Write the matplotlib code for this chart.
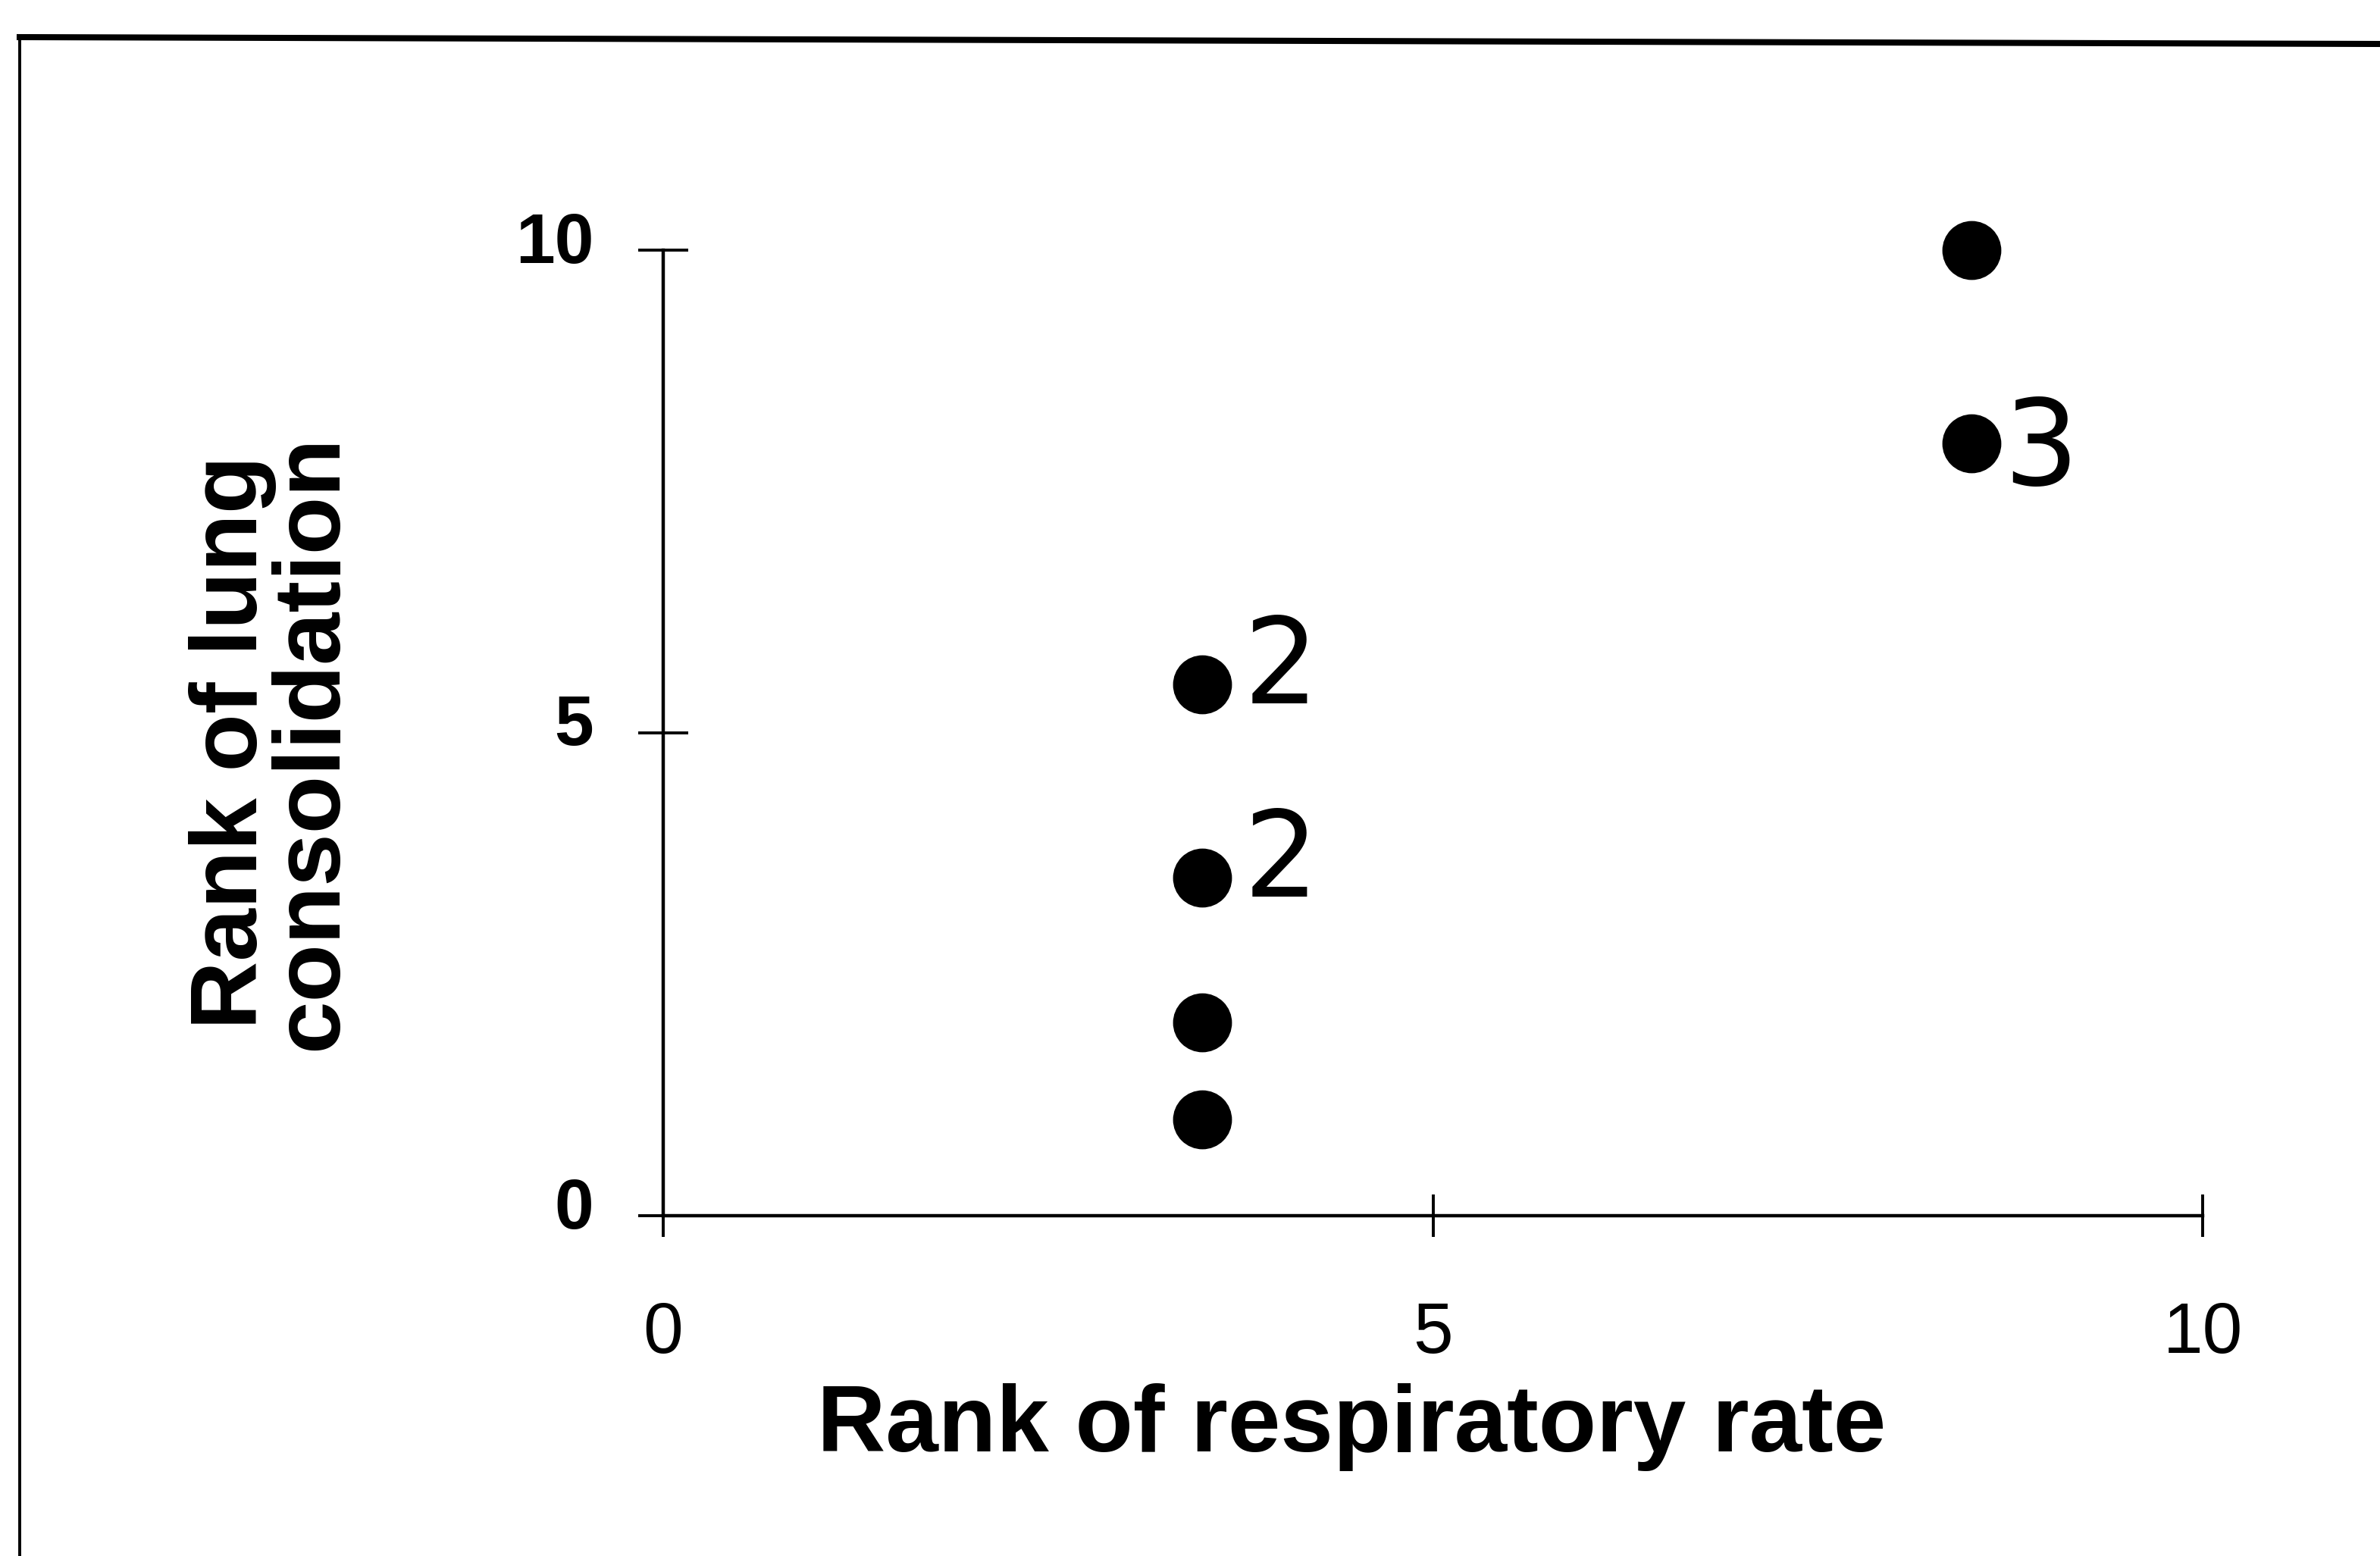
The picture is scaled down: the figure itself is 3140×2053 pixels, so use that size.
import matplotlib
matplotlib.use("Agg")
import matplotlib.pyplot as plt
from matplotlib.lines import Line2D
from matplotlib.transforms import ScaledTranslation

plt.rcParams['font.family'] = ['Liberation Sans', 'DejaVu Sans']

# ranks (ties share a rank)
rank_resp = [3.5, 3.5, 3.5, 3.5, 8.5, 8.5]
rank_lung = [1, 2, 3.5, 5.5, 8, 10]
tie_counts = ['', '', '2', '2', '3', '']

x_ticks = [0, 5, 10]
y_ticks = [0, 5, 10]

fig = plt.figure(figsize=(31.4, 20.53), dpi=100)
ax = fig.add_axes([875 / 3140, 1 - 1604 / 2053, 2031 / 3140, 1274 / 2053])

ax.plot(rank_resp, rank_lung, 'o', color='black', markersize=55, clip_on=False)

# tie counts written next to the points
offsets = {'2': (75, -18), '3': (66, -40)}
for x, y, lab in zip(rank_resp, rank_lung, tie_counts):
    if lab:
        ax.annotate(lab, (x, y), xytext=offsets[lab], textcoords='offset points',
                    fontsize=112, family='DejaVu Sans', ha='center', va='baseline')

ax.set_xlim(0, 10)
ax.set_ylim(0, 10)
ax.set_xticks(x_ticks)
ax.set_yticks(y_ticks)

for side in ['top', 'right']:
    ax.spines[side].set_visible(False)
for side in ['left', 'bottom']:
    ax.spines[side].set_linewidth(3.2)

ax.tick_params(axis='y', direction='inout', length=48, width=2.8, pad=42, labelsize=67)
ax.tick_params(axis='x', direction='inout', length=41, width=2.8, pad=60, labelsize=68)
for lab in ax.get_yticklabels():
    lab.set_fontweight('bold')
    lab.set_transform(lab.get_transform() + ScaledTranslation(0, 0.17, fig.dpi_scale_trans))

ax.set_xlabel('Rank of respiratory rate', fontsize=90, fontweight='bold', va='baseline')
ax.xaxis.set_label_coords(0.447, -0.244)
ax.set_ylabel('Rank of lung\nconsolidation', fontsize=90, fontweight='bold',
              va='center', ha='center', multialignment='center', linespacing=0.88)
ax.yaxis.set_label_coords(-0.2536, 0.49)

# scanned frame edges (top and left)
fig.add_artist(Line2D([26 / 3140, 1], [1 - 49 / 2053, 1 - 58 / 2053],
                      transform=fig.transFigure, color='black', lw=5.8))
fig.add_artist(Line2D([26 / 3140, 26 / 3140], [0, 1 - 49 / 2053],
                      transform=fig.transFigure, color='black', lw=2.8))

fig.savefig('out.png', dpi=100, facecolor='white')
